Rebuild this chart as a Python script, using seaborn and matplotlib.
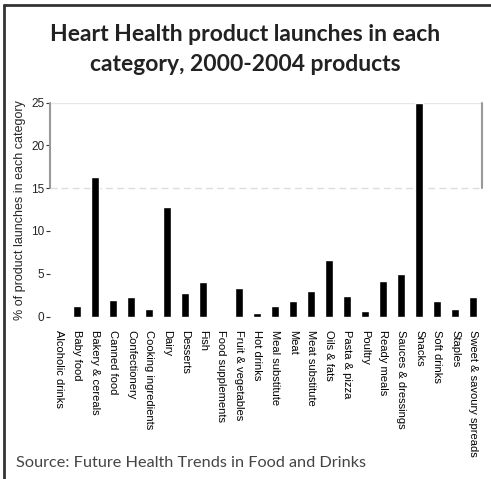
import matplotlib
matplotlib.use("Agg")
import matplotlib.pyplot as plt
import seaborn as sns
import pandas as pd

categories = ["Alcoholic drinks", "Baby food", "Bakery & cereals", "Canned food",
              "Confectionery", "Cooking ingredients", "Dairy", "Desserts", "Fish",
              "Food supplements", "Fruit & vegetables", "Hot drinks", "Meal substitute",
              "Meat", "Meat substitute", "Oils & fats", "Pasta & pizza", "Poultry",
              "Ready meals", "Sauces & dressings", "Snacks", "Soft drinks", "Staples",
              "Sweet & savoury spreads"]
values = [0, 1.25, 16.3, 1.95, 2.3, 0.9, 12.8, 2.75, 4.05, 0, 3.35, 0.43, 1.25,
          1.83, 3.0, 6.6, 2.4, 0.66, 4.17, 4.98, 25, 1.83, 0.9, 2.3]
yticks = [0, 5, 10, 15, 20, 25]

df = pd.DataFrame({"category": categories, "pct": values})

sns.set_style("white")
plt.rcParams["font.family"] = ["Liberation Sans", "DejaVu Sans"]

fig = plt.figure(figsize=(4.91, 4.79), dpi=100)
ax = fig.add_axes([0.1018, 0.3392, 0.8799, 0.4464])

sns.barplot(data=df, x="category", y="pct", color="black", width=0.48,
            saturation=1, ax=ax, zorder=3)

n = len(categories)
ax.set_xlim(-0.5, n - 0.5)
ax.set_ylim(0, 25)
for s in ax.spines.values():
    s.set_visible(False)

# frame of the 15-25 band
ax.axhline(25, color="#e6e6e6", lw=1, zorder=1)
ax.axhline(15, color="#dddddd", lw=1, ls=(0, (5, 3)), zorder=1)
ax.plot([-0.5, -0.5], [15, 25], color="#999999", lw=1.5, clip_on=False, zorder=2)
ax.plot([n - 0.5, n - 0.5], [15, 25], color="#999999", lw=1.5, clip_on=False, zorder=2)

ax.set_xticks(range(n))
ax.set_xticklabels(categories, rotation=270, fontsize=8, color="black")
ax.tick_params(axis="x", length=0, pad=10)
ax.set_xticks([i - 0.5 for i in range(n + 1)], minor=True)
ax.tick_params(axis="x", which="minor", length=4, width=1, color="#333333", direction="out")

ax.set_yticks(yticks)
ax.set_yticklabels([str(t) for t in yticks], fontsize=8.5)
ax.tick_params(axis="y", length=3, width=0.8, color="#333333", pad=1, left=True)

ax.set_xlabel("")
ax.set_ylabel("% of product launches in each category", fontsize=9, labelpad=4)

fig.text(0.5, 0.929, "Heart Health product launches in each",
         ha="center", va="center", fontsize=16.5, fontweight="bold",
         family=["Lato", "DejaVu Sans"], color="#222222")
fig.text(0.5, 0.866, "category, 2000-2004 products",
         ha="center", va="center", fontsize=16.5, fontweight="bold",
         family=["Lato", "DejaVu Sans"], color="#222222")
fig.text(0.033, 0.033, "Source: Future Health Trends in Food and Drinks",
         ha="left", va="center", fontsize=11.7, family=["Lato", "DejaVu Sans"],
         color="#444444")

# page border (top and left)
fig.add_artist(plt.Line2D([0.008, 1], [0.989, 0.989], color="#333333", lw=2,
                          transform=fig.transFigure))
fig.add_artist(plt.Line2D([0.008, 0.008], [0, 0.989], color="#333333", lw=2,
                          transform=fig.transFigure))

fig.savefig("out.png", dpi=100)
